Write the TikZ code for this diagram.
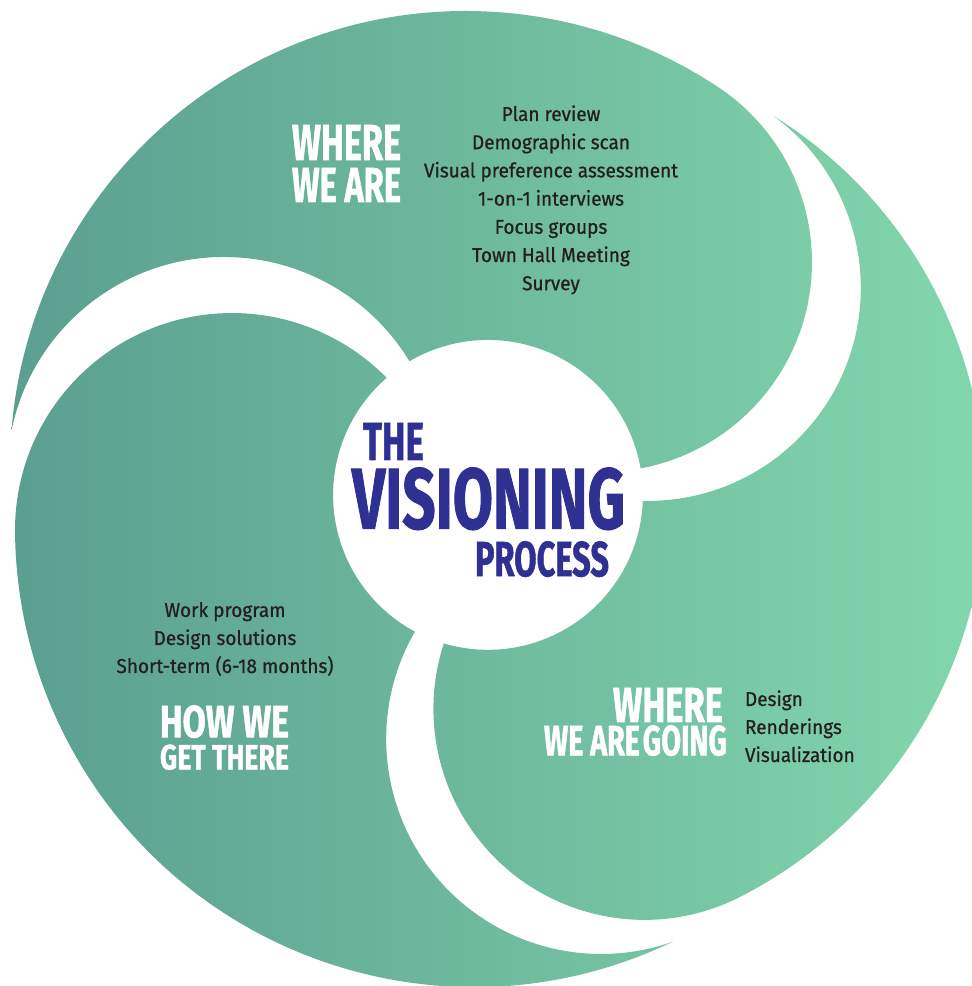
\documentclass[tikz,border=0pt]{standalone}
\usepackage{fontspec}
\usepackage{graphicx}
\setmainfont{Fira Sans}
\newfontfamily\headfont[FakeBold=1.3]{Fira Sans}
\newfontfamily\bodyfont[FakeStretch=0.95,FakeBold=0.7]{Fira Sans}
\definecolor{tealL}{HTML}{5A9E90}
\definecolor{tealR}{HTML}{82D6AC}
\definecolor{navy}{HTML}{2E3192}
\definecolor{ink}{HTML}{231F20}
\tikzset{
  head/.style={inner sep=0pt, outer sep=0pt, text=white, font=\headfont\bfseries},
  titletext/.style={inner sep=0pt, outer sep=0pt, text=navy, font=\headfont\bfseries},
  item/.style={inner sep=0pt, outer sep=0pt, text=ink, font=\bodyfont\fontsize{20}{24}\selectfont, anchor=base},
  itemL/.style={item, anchor=base west},
}
\begin{document}
\begin{tikzpicture}[x=1pt,y=1pt]
\useasboundingbox (0,0) rectangle (972,986);
\begin{scope}
\clip (0,0) rectangle (972,986);
\clip
  (11.53,556.36) arc[start angle=175.3, end angle=56.44, radius=456pt]
    arc[start angle=56.44, end angle=-79.39, radius=210pt]
    arc[start angle=9.85, end angle=120.4, radius=155pt]
    arc[start angle=31.3, end angle=168.2, radius=217pt] -- cycle
  (774.1,869.7) arc[start angle=57.98, end angle=-62.91, radius=449pt]
    arc[start angle=-62.91, end angle=-198.07, radius=211pt]
    arc[start angle=-106.54, end angle=-2.22, radius=155pt]
    arc[start angle=-91.34, end angle=53.73, radius=213pt] -- cycle
  (672.9,44.3) arc[start angle=-64.32, end angle=-179.53, radius=459pt]
    arc[start angle=180.47, end angle=44.55, radius=217pt]
    arc[start angle=130.87, end angle=241.83, radius=155pt]
    arc[start angle=150.05, end angle=289.54, radius=215pt] -- cycle;
\shade[left color=tealL, right color=tealR] (0,0) rectangle (972,986);
\end{scope}

% headings
\node[head, anchor=south west] (wa1) at (292,826) {\resizebox{109pt}{35pt}{WHERE}};
\node[head, anchor=south west] (wa2) at (292,784) {\resizebox{109pt}{34pt}{WE ARE}};
\node[head, anchor=south west] (hw1) at (160,248) {\resizebox{129pt}{32pt}{HOW WE}};
\node[head, anchor=south west] (hw2) at (160,216) {\resizebox{129pt}{25pt}{GET THERE}};
\node[head, anchor=south east] (wg1) at (723,264) {\resizebox{110pt}{34pt}{WHERE}};
\node[head, anchor=south east] (wg2) at (727,230) {\resizebox{183pt}{30pt}{WE ARE\hspace{0.1em}GOING}};

% title
\node[titletext, anchor=south west] (t1) at (363,526) {\resizebox{61pt}{37pt}{THE}};
\node[titletext, anchor=south west] (t2) at (352,456) {\resizebox{273pt}{61pt}{VISIONING}};
\node[titletext, anchor=south west] (t3) at (475,409) {\resizebox{134pt}{35pt}{PROCESS}};

% lists
\node[item] (a1) at (551,865) {Plan review};
\node[item] (a2) at (551,836.8) {Demographic scan};
\node[item] (a3) at (551,808.6) {Visual preference assessment};
\node[item] (a4) at (551,780.4) {1-on-1 interviews};
\node[item] (a5) at (551,752.2) {Focus groups};
\node[item] (a6) at (551,724) {Town Hall Meeting};
\node[item] (a7) at (551,695.8) {Survey};

\node[item] (b1) at (225,369) {Work program};
\node[item] (b2) at (225,341) {Design solutions};
\node[item] (b3) at (225,313) {Short-term (6-18 months)};

\node[itemL] (c1) at (745,280) {Design};
\node[itemL] (c2) at (745,252) {Renderings};
\node[itemL] (c3) at (745,224) {Visualization};
\end{tikzpicture}
\end{document}
